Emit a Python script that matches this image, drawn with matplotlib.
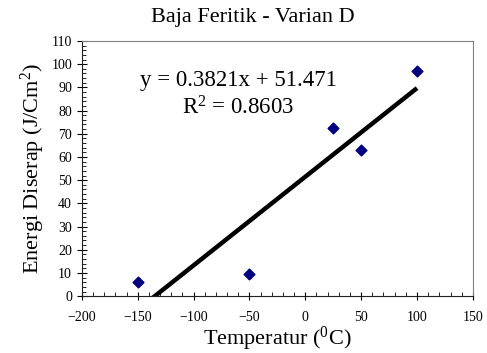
import numpy as np
import matplotlib
matplotlib.use("Agg")
import matplotlib.pyplot as plt
from matplotlib.ticker import MultipleLocator

# data
temp = [-150, -50, 25, 50, 100]
energy = [6, 9.5, 72.5, 63, 97]
slope = 0.3821
intercept = 51.471
r2 = 0.8603

plt.rcParams['font.family'] = ['Liberation Serif', 'DejaVu Serif']
plt.rcParams['mathtext.fontset'] = 'custom'
plt.rcParams['mathtext.rm'] = 'Liberation Serif'
plt.rcParams['mathtext.it'] = 'Liberation Serif:italic'

fig = plt.figure(figsize=(4.87, 3.53), dpi=100)
ax = fig.add_axes([0.168, 0.161, 0.803, 0.723])

# trendline over the data span, clipped by the axes
xs = np.array([min(temp), max(temp)])
ax.plot(xs, slope * xs + intercept, color='black', lw=3.2, solid_capstyle='butt')
ax.scatter(temp, energy, marker='D', s=30, color='#000080', zorder=3)

ax.set_xlim(-200, 150)
ax.set_ylim(0, 110)
ax.xaxis.set_major_locator(MultipleLocator(50))
ax.xaxis.set_minor_locator(MultipleLocator(10))
ax.yaxis.set_major_locator(MultipleLocator(10))
ax.yaxis.set_minor_locator(MultipleLocator(2))
ax.tick_params(axis='x', which='major', direction='inout', length=6, labelsize=10, pad=8)
ax.tick_params(axis='x', which='minor', direction='in', length=3)
ax.tick_params(axis='y', which='major', direction='inout', length=7, labelsize=10)
ax.tick_params(axis='y', which='minor', direction='in', length=3)

for side in ['top', 'right']:
    ax.spines[side].set_color('#808080')
for side in ['left', 'bottom']:
    ax.spines[side].set_color('#202020')

# title sits a little right of the axes centre, as in the original
fig.text(0.52, 0.95, 'Baja Feritik - Varian D', fontsize=16, ha='center', va='center')
ax.set_xlabel('Temperatur ($\\mathrm{^0}$C)', fontsize=16, labelpad=0)
ax.set_ylabel('Energi Diserap (J/Cm$\\mathrm{^2}$)', fontsize=16, labelpad=3)

ax.text(-60, 93, 'y = %.4fx + %.3f' % (slope, intercept), fontsize=16.5,
        ha='center', va='center')
ax.text(-60, 81, 'R$\\mathrm{^2}$ = %.4f' % r2, fontsize=16.5, ha='center', va='center')

fig.savefig('out.png', dpi=100)
